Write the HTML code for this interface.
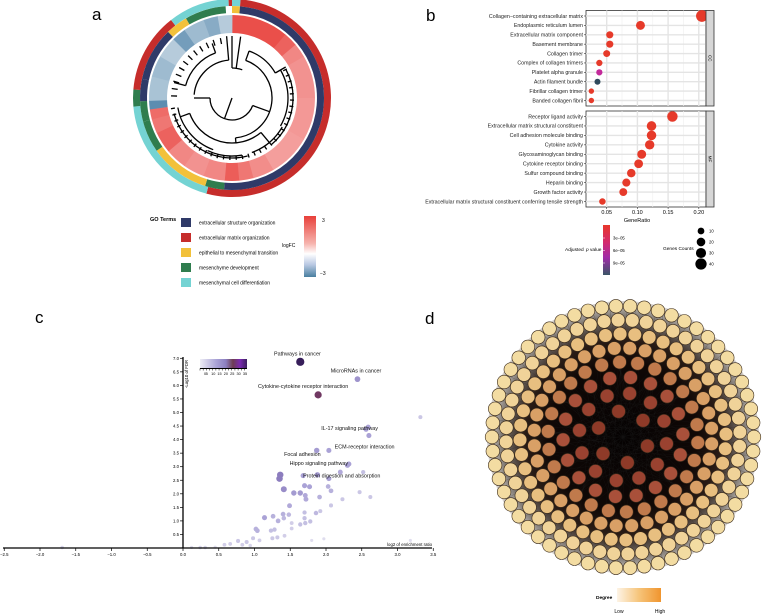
<!DOCTYPE html>
<html><head><meta charset="utf-8">
<style>
html,body{margin:0;padding:0;background:#fff;}
svg{display:block;font-family:"Liberation Sans",Arial,sans-serif;}
</style></head>
<body>
<svg id="fig" width="774" height="614" viewBox="0 0 774 614" xmlns="http://www.w3.org/2000/svg">
<text x="92" y="20" font-size="17">a</text>
<text x="426" y="21" font-size="17">b</text>
<text x="35" y="323" font-size="17">c</text>
<text x="425" y="324" font-size="17">d</text>
<g id="pa"></g>
<g id="pb"></g>
<g id="pc"></g>
<g id="pd"></g>
</svg>
<script>
const NS="http://www.w3.org/2000/svg";
function mk(parent,tag,attrs,txt){const e=document.createElementNS(NS,tag);for(const k in attrs)e.setAttribute(k,attrs[k]);if(txt!==undefined)e.textContent=txt;parent.appendChild(e);return e;}

/* ---------------- Panel A data ---------------- */
const goOuterSeg=[[0,5,'cyan'],[5,195,'red'],[195,265,'cyan'],[265,275,'green'],[275,322,'red'],[322,358,'cyan'],[358,360,'red']];
const goInnerSeg=[[0,5,'yellow'],[5,185,'navy'],[185,197,'green'],[197,235,'yellow'],[235,255,'green'],[255,268,'green'],[268,282,'navy'],[282,316,'navy'],[316,330,'yellow'],[330,356,'green']];
const fcStart=[0,40,50,60,90,120,150,165,175,185,200,215,230,245,255,262,268,285,300,315,325,340,350];
const fcEnd=[40,50,60,90,120,150,165,175,185,200,215,230,245,255,262,268,285,300,315,325,340,350,360];
const fcValue=[2.6,2.2,1.5,1.3,1.2,1.1,1.4,1.8,2.3,1.5,1.3,1.5,2.2,1.8,2.0,-2.5,-1.0,-1.2,-0.8,-2.0,-1.2,-1.6,-0.8];
const goTerms=['extracellular structure organization','extracellular matrix organization','epithelial to mesenchymal transition','mesenchyme development','mesenchymal cell differentiation'];
const goColors={navy:'#2f3a68',red:'#c62d2b',yellow:'#f2c13a',green:'#2f7d4e',cyan:'#74d3d3'};
const goKeys=['navy','red','yellow','green','cyan'];

(function(){
 const g=document.getElementById('pa');const cx=232,cy=98;
 function pol(r,a){const t=(a-90)*Math.PI/180;return [cx+r*Math.cos(t),cy+r*Math.sin(t)];}
 function ann(r0,r1,a0,a1){const p1=pol(r1,a0),p2=pol(r1,a1),p3=pol(r0,a1),p4=pol(r0,a0);const l=(a1-a0)>180?1:0;
  return `M${p1[0]},${p1[1]}A${r1},${r1} 0 ${l} 1 ${p2[0]},${p2[1]}L${p3[0]},${p3[1]}A${r0},${r0} 0 ${l} 0 ${p4[0]},${p4[1]}Z`;}
 function fcCol(v){const t=Math.max(-1,Math.min(1,v/3));
  if(t>=0){const a=[255,255,255],b=[232,60,55];return `rgb(${a.map((x,i)=>Math.round(x+(b[i]-x)*Math.pow(t,0.7))).join(',')})`;}
  const a=[255,255,255],b=[70,125,165];const s=-t;return `rgb(${a.map((x,i)=>Math.round(x+(b[i]-x)*Math.pow(s,0.7))).join(',')})`;}
 goOuterSeg.forEach(s=>{const e=mk(g,'path',{d:ann(92,99,s[0],s[1]),fill:goColors[s[2]]});});
 goInnerSeg.forEach(s=>{const e=mk(g,'path',{d:ann(85,92,s[0],s[1]),fill:goColors[s[2]]});});
 for(let i=0;i<fcValue.length;i++){const e=mk(g,'path',{d:ann(65,83,fcStart[i],fcEnd[i]+0.3),fill:fcCol(fcValue[i])});}
 const dg=mk(g,'g',{stroke:'#000','stroke-width':'1.3',fill:'none'});
 function arc(r,a0,a1){const p=pol(r,a0),q=pol(r,a1);mk(dg,'path',{d:`M${p[0]},${p[1]}A${r},${r} 0 ${(a1-a0)>180?1:0} 1 ${q[0]},${q[1]}`});}
 function rad(r0,r1,a){const p=pol(r0,a),q=pol(r1,a);mk(dg,'line',{x1:p[0],y1:p[1],x2:q[0],y2:q[1]});}
 arc(22,110,270);rad(0,22,200);rad(22,40,110);rad(22,38,270);
 arc(40,20,175);arc(38,275,355);rad(38,62,355);rad(40,50,20);rad(40,45,175);
 arc(50,20,60);rad(50,62,60);arc(45,140,250);rad(45,58,140);rad(45,55,250);
 arc(58,120,160);arc(55,200,260);arc(48,285,340);rad(48,60,285);rad(48,58,340);
 arc(30,0,20);rad(30,62,0);rad(30,62,8);arc(56,60,120);arc(58,170,205);
 for(let a=62;a<262;a+=6){rad(58,62,a);}
 for(let a=272;a<355;a+=7){rad(55,61,a);}
 arc(61,62,140);arc(60,165,255);
 mk(g,'text',{x:150,y:221,'font-size':'5.5','font-weight':'bold'},'GO Terms');
 goTerms.forEach((t,i)=>{const y=218+i*15;
  const r=mk(g,'rect',{x:181,y:y,width:10,height:9,fill:goColors[goKeys[i]]});
  const tx=mk(g,'text',{x:199,y:y+6.5,'font-size':'5'},t);});
 const defs=mk(document.getElementById('fig'),'defs',{});
 const lg=mk(defs,'linearGradient',{id:'fcg',x1:0,y1:0,x2:0,y2:1});
 [['0','#e8403a'],['0.45','#f6b3ad'],['0.62','#ffffff'],['0.8','#b8c8e2'],['1','#4a7fa0']].forEach(s=>mk(lg,'stop',{offset:s[0],'stop-color':s[1]}));
 mk(g,'rect',{x:304,y:216,width:12,height:61,fill:'url(#fcg)'});
 mk(g,'text',{x:282,y:247,'font-size':'5'},'logFC');
 mk(g,'text',{x:322,y:222,'font-size':'5'},'3');
 mk(g,'text',{x:320,y:275,'font-size':'5'},'−3');
})();

/* ---------------- Panel B data ---------------- */
const ccTerms=['Collagen−containing extracellular matrix','Endoplasmic reticulum lumen','Extracellular matrix component','Basement membrane','Collagen trimer','Complex of collagen trimers','Platelet alpha granule','Actin filament bundle','Fibrillar collagen trimer','Banded collagen fibril'];
const ccRatio=[0.205,0.105,0.055,0.055,0.050,0.038,0.038,0.035,0.025,0.025];
const ccCount=[43,22,12,12,11,8,8,7,5,5];
const ccPadj=[0.1,0.5,1,1,1,1,6,9.5,1,1];
const mfTerms=['Receptor ligand activity','Extracellular matrix structural constituent','Cell adhesion molecule binding','Cytokine activity','Glycosaminoglycan binding','Cytokine receptor binding','Sulfur compound binding','Heparin binding','Growth factor activity','Extracellular matrix structural constituent conferring tensile strength'];
const mfRatio=[0.157,0.123,0.123,0.120,0.107,0.102,0.090,0.082,0.077,0.043];
const mfCount=[33,26,26,25,22,21,19,17,16,9];
const mfPadj=[0.1,0.1,0.1,0.1,0.2,0.2,0.3,0.3,0.3,1];
const bTicks=[0.05,0.10,0.15,0.20];

(function(){
 const g=document.getElementById('pb');
 const x0=586,x1=706;const xs=v=>576+v*614;
 function pcol(p){if(p<3)return '#e63a2a';if(p<8)return '#c3299a';return '#2f4a5c';}
 function panel(y0,y1,terms,ratio,count,padj,strip){
  mk(g,'rect',{x:x0,y:y0,width:x1-x0,height:y1-y0,fill:'#fff',stroke:'#333','stroke-width':'0.8'});
  const step=(y1-y0-11)/9;
  bTicks.forEach(t=>{mk(g,'line',{x1:xs(t),x2:xs(t),y1:y0,y2:y1,stroke:'#e4e4e4','stroke-width':'1.4'});});
  [0.075,0.125,0.175].forEach(t=>{mk(g,'line',{x1:xs(t),x2:xs(t),y1:y0,y2:y1,stroke:'#f1f1f1','stroke-width':'0.7'});});
  terms.forEach((t,i)=>{const y=y0+5.5+i*step;
   mk(g,'line',{x1:x0,x2:x1,y1:y,y2:y,stroke:'#e4e4e4','stroke-width':'1.4'});
   mk(g,'line',{x1:x0-2,x2:x0,y1:y,y2:y,stroke:'#333','stroke-width':'0.6'});
   const tx=mk(g,'text',{x:x0-3,y:y+1.8,'font-size':'5.3','text-anchor':'end',fill:'#222'},t);});
  terms.forEach((t,i)=>{const y=y0+5.5+i*step;
   const c=mk(g,'circle',{cx:xs(ratio[i]),cy:y,r:(1.1+Math.sqrt(count[i])*0.72).toFixed(2),fill:pcol(padj[i])});});
  mk(g,'rect',{x:x1,y:y0,width:8,height:y1-y0,fill:'#d6d6d6',stroke:'#333','stroke-width':'0.8'});
  mk(g,'text',{x:x1+4,y:(y0+y1)/2,'font-size':'4.5','text-anchor':'middle',transform:`rotate(90 ${x1+4} ${(y0+y1)/2})`,dy:'1.5'},strip);
 }
 panel(10.5,106,ccTerms,ccRatio,ccCount,ccPadj,'CC');
 panel(111,207,mfTerms,mfRatio,mfCount,mfPadj,'MF');
 bTicks.forEach(t=>{mk(g,'line',{x1:xs(t),x2:xs(t),y1:207,y2:209,stroke:'#333','stroke-width':'0.6'});
  const tx=mk(g,'text',{x:xs(t),y:214,'font-size':'5.5','text-anchor':'middle'},t.toFixed(2));});
 mk(g,'text',{x:637,y:222,'font-size':'5.5','text-anchor':'middle'},'GeneRatio');
 const defs=document.querySelector('defs');
 const lg=mk(defs,'linearGradient',{id:'pg',x1:0,y1:0,x2:0,y2:1});
 [['0','#e8372a'],['0.35','#d32a6e'],['0.65','#a02ca8'],['1','#3a5566']].forEach(s=>mk(lg,'stop',{offset:s[0],'stop-color':s[1]}));
 mk(g,'rect',{x:603,y:225,width:7,height:50,fill:'url(#pg)'});
 mk(g,'text',{x:565,y:251,'font-size':'4.8'},'Adjusted ');
 mk(g,'text',{x:586,y:251,'font-size':'4.8','font-style':'italic'},'p');
 mk(g,'text',{x:590,y:251,'font-size':'4.8'},'value');
 ['3e−05','6e−05','9e−05'].forEach((t,i)=>{mk(g,'text',{x:613,y:239.5+i*12.5,'font-size':'4.2'},t);mk(g,'line',{x1:603,x2:605,y1:238+i*12.5,y2:238+i*12.5,stroke:'#fff','stroke-width':'0.5'});});
 mk(g,'text',{x:663,y:250,'font-size':'4.8'},'Genes Counts');
 [10,20,30,40].forEach((c,i)=>{mk(g,'circle',{cx:701,cy:231+i*11,r:(1.1+Math.sqrt(c)*0.72).toFixed(2),fill:'#000'});mk(g,'text',{x:709,y:232.5+i*11,'font-size':'4.2'},String(c));});
})();

/* ---------------- Panel C data ---------------- */
const cX=[1.64,2.44,1.89,3.32,2.59,2.56,2.60,1.87,2.04,2.32,2.30,2.20,2.52,1.36,1.35,1.68,1.88,2.04,1.70,1.77,1.41,1.55,1.64,1.71,1.72,2.03,2.07,1.91,2.23,2.47,2.62,1.49,1.14,1.26,1.40,1.41,1.48,1.33,1.70,1.70,1.86,1.92,2.07,1.78,1.71,1.64,1.52,1.52,1.02,1.04,1.23,1.28,0.98,1.32,1.25,1.42,0.77,0.89,1.07,0.58,0.66,0.83,0.94,0.31,0.24,-1.69,1.80,1.97,3.18,0.45,0.12];
const cY=[6.87,6.23,5.65,4.83,4.46,4.38,4.15,3.60,3.60,3.10,3.05,2.80,2.80,2.70,2.56,2.67,2.70,2.56,2.30,2.26,2.17,2.03,2.03,1.94,1.80,2.27,2.11,1.88,1.80,2.06,1.88,1.56,1.12,1.17,1.25,1.10,1.23,1.00,1.31,1.10,1.29,1.36,1.57,0.98,0.92,0.87,0.92,0.72,0.70,0.64,0.64,0.68,0.36,0.39,0.36,0.45,0.26,0.22,0.28,0.12,0.15,0.12,0.09,0.02,0.02,0.02,0.28,0.34,0.28,0.03,0.02];
const cCount=[36,14,26,5,10,10,10,12,10,10,10,9,6,20,20,10,12,10,10,10,16,12,12,9,9,8,8,8,5,5,5,9,10,8,8,7,7,8,6,6,7,5,5,6,6,6,4,4,8,8,6,6,5,5,5,4,5,5,4,4,4,4,3,3,3,3,2,2,2,2,2];
const cXTicks=[-2.5,-2.0,-1.5,-1.0,-0.5,0.0,0.5,1.0,1.5,2.0,2.5,3.0,3.5];
const cYTicks=[0.5,1.0,1.5,2.0,2.5,3.0,3.5,4.0,4.5,5.0,5.5,6.0,6.5,7.0];
const cLegendTicks=[5,10,15,20,25,30,35];
const cLabels=['Pathways in cancer','MicroRNAs in cancer','Cytokine-cytokine receptor interaction','IL-17 signaling pathway','ECM-receptor interaction','Focal adhesion','Hippo signaling pathway','Protein digestion and absorption'];
const cLabelX=[1.60,2.42,1.68,2.33,2.54,1.67,1.90,2.22];
const cLabelY=[7.10,6.47,5.90,4.35,3.67,3.40,3.07,2.60];

(function(){
 const g=document.getElementById('pc');
 const xs=v=>183+v*71.5, ys=v=>548-v*27.1;
 function cc(n){const stops=[[0,[236,236,244]],[10,[170,162,214]],[20,[140,125,190]],[25,[110,60,80]],[30,[120,40,170]],[36,[55,30,90]]];
  for(let i=1;i<stops.length;i++){if(n<=stops[i][0]){const a=stops[i-1],b=stops[i],t=(n-a[0])/(b[0]-a[0]);return `rgb(${a[1].map((x,k)=>Math.round(x+(b[1][k]-x)*t)).join(',')})`;}}return 'rgb(55,30,90)';}
 for(let i=0;i<cX.length;i++){const c=mk(g,'circle',{cx:xs(cX[i]),cy:ys(cY[i]),r:(0.8+Math.sqrt(cCount[i])*0.55).toFixed(2),fill:cc(cCount[i])});}
 mk(g,'line',{x1:3,x2:432,y1:548,y2:548,stroke:'#000','stroke-width':'1.3'});
 mk(g,'line',{x1:183,x2:183,y1:357,y2:548,stroke:'#000','stroke-width':'1.3'});
 cXTicks.forEach(t=>{mk(g,'line',{x1:xs(t),x2:xs(t),y1:548,y2:551,stroke:'#000','stroke-width':'0.7'});
  const tx=mk(g,'text',{x:xs(t),y:556,'font-size':'4.3','text-anchor':'middle'},t.toFixed(1).replace('-','−'));});
 cYTicks.forEach(t=>{mk(g,'line',{x1:180,x2:183,y1:ys(t),y2:ys(t),stroke:'#000','stroke-width':'0.7'});
  const tx=mk(g,'text',{x:179,y:ys(t)+1.5,'font-size':'4.3','text-anchor':'end'},t.toFixed(1));});
 mk(g,'text',{x:188,y:374,'font-size':'4.3','text-anchor':'middle',transform:'rotate(-90 188 374)'},'-Log10 of FDR');
 mk(g,'text',{x:432,y:546,'font-size':'4.3','text-anchor':'end'},'log2 of enrichment ratio');
 cLabels.forEach((t,i)=>{const tx=mk(g,'text',{x:xs(cLabelX[i]),y:ys(cLabelY[i]),'font-size':'5.4','text-anchor':'middle',fill:'#111'},t);});
 const defs=document.querySelector('defs');
 const lg=mk(defs,'linearGradient',{id:'cg',x1:0,y1:0,x2:1,y2:0});
 [['0','#ececf4'],['0.35','#a9a2d6'],['0.55','#8c7fc0'],['0.7','#6e3c52'],['0.85','#7a2ab0'],['1','#3b1f5e']].forEach(s=>mk(lg,'stop',{offset:s[0],'stop-color':s[1]}));
 mk(g,'rect',{x:200,y:359,width:47,height:9,fill:'url(#cg)'});
 mk(g,'line',{x1:200,x2:247,y1:368.5,y2:368.5,stroke:'#000','stroke-width':'1'});
 const lx=v=>200+v*(47/37);
 for(let v=0;v<=36;v+=2.5){mk(g,'line',{x1:lx(v),x2:lx(v),y1:368.5,y2:370.5,stroke:'#000','stroke-width':'0.5'});}
 cLegendTicks.forEach(v=>mk(g,'text',{x:lx(v)+0.5,y:375,'font-size':'3.8','text-anchor':'middle'},String(v)));
 mk(g,'text',{x:lx(0)+5,y:375,'font-size':'3.8','text-anchor':'middle'},'0');
})();

/* ---------------- Panel D ---------------- */
const dRingRadius=[131,117,103,89,75,60,44,26];
const dRingNodes=[58,52,44,36,26,18,12,6];
(function(){
 const g=document.getElementById('pd');const cx=623,cy=437;
 const defs=document.querySelector('defs');
 const rg=mk(defs,'radialGradient',{id:'dg'});
 [['0','#050202'],['0.55','#100806'],['0.72','#2a1c16'],['0.88','#77706a'],['1','#d8d4d0']].forEach(s=>mk(rg,'stop',{offset:s[0],'stop-color':s[1]}));
 mk(g,'circle',{cx:cx,cy:cy,r:136,fill:'url(#dg)'});
 const eg=mk(g,'g',{stroke:'#222','stroke-width':'0.3','stroke-opacity':'0.55'});
 for(let i=0;i<90;i++){const a=i*4*Math.PI/180,b=(i*4+137+i%7*11)*Math.PI/180;
  mk(eg,'line',{x1:cx+131*Math.cos(a),y1:cy+131*Math.sin(a),x2:cx+70*Math.cos(b),y2:cy+70*Math.sin(b)});}
 const cols=['#f3dca2','#f0d399','#e8bf80','#d9a066','#c07a4c','#a9503a','#9a4230','#8e3a28'];
 dRingRadius.forEach((r,k)=>{const n=dRingNodes[k];
  for(let i=0;i<n;i++){const a=(i/n)*2*Math.PI+k*0.2;
   const c=mk(g,'circle',{cx:(cx+r*Math.cos(a)).toFixed(1),cy:(cy+r*Math.sin(a)).toFixed(1),r:6.8,fill:cols[k],stroke:'#3a2a1a','stroke-width':'0.6'});
   
   }});
 const lg=mk(defs,'linearGradient',{id:'og',x1:0,y1:0,x2:1,y2:0});
 [['0','#fdf4e6'],['0.5','#f6c47a'],['1','#f0952e']].forEach(s=>mk(lg,'stop',{offset:s[0],'stop-color':s[1]}));
 mk(g,'text',{x:596,y:599,'font-size':'4.8','font-weight':'bold'},'Degree');
 mk(g,'rect',{x:617,y:588,width:44,height:14,fill:'url(#og)'});
 mk(g,'text',{x:619,y:613,'font-size':'5','text-anchor':'middle'},'Low');
 mk(g,'text',{x:660,y:613,'font-size':'5','text-anchor':'middle'},'High');
})();
</script>
</body></html>
